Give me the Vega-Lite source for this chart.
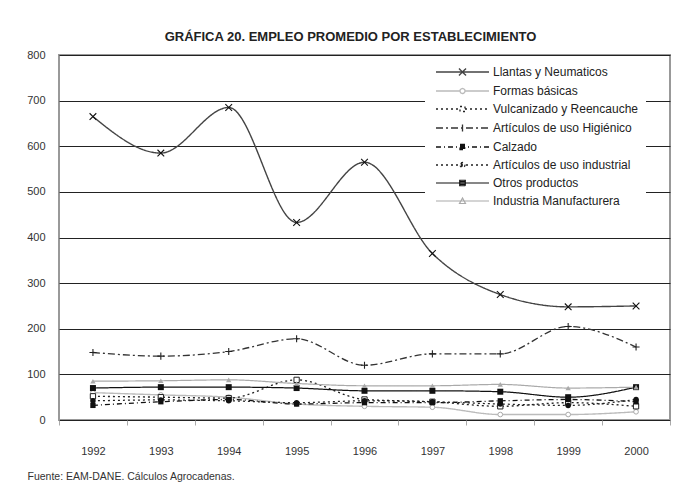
{
  "$schema": "https://vega.github.io/schema/vega-lite/v6.json",
  "width": 611,
  "height": 365,
  "autosize": {"type": "none"},
  "padding": {"left": 59, "top": 55, "right": 14, "bottom": 63},
  "background": "white",
  "title": {
    "text": "GRÁFICA  20. EMPLEO PROMEDIO POR ESTABLECIMIENTO",
    "font": "Liberation Sans",
    "fontSize": 13,
    "fontWeight": "bold",
    "color": "#222",
    "anchor": "middle",
    "dx": -14,
    "offset": 5
  },
  "config": {
    "view": {"stroke": "#999", "strokeWidth": 2},
    "font": "Liberation Sans"
  },
  "data": {
    "values": [
      {"anio": "1992", "serie": "Llantas y Neumaticos", "valor": 665},
      {"anio": "1993", "serie": "Llantas y Neumaticos", "valor": 585},
      {"anio": "1994", "serie": "Llantas y Neumaticos", "valor": 685},
      {"anio": "1995", "serie": "Llantas y Neumaticos", "valor": 433},
      {"anio": "1996", "serie": "Llantas y Neumaticos", "valor": 565},
      {"anio": "1997", "serie": "Llantas y Neumaticos", "valor": 365},
      {"anio": "1998", "serie": "Llantas y Neumaticos", "valor": 275},
      {"anio": "1999", "serie": "Llantas y Neumaticos", "valor": 248},
      {"anio": "2000", "serie": "Llantas y Neumaticos", "valor": 250},
      {"anio": "1992", "serie": "Formas básicas", "valor": 60},
      {"anio": "1993", "serie": "Formas básicas", "valor": 55},
      {"anio": "1994", "serie": "Formas básicas", "valor": 50},
      {"anio": "1995", "serie": "Formas básicas", "valor": 35},
      {"anio": "1996", "serie": "Formas básicas", "valor": 30},
      {"anio": "1997", "serie": "Formas básicas", "valor": 28},
      {"anio": "1998", "serie": "Formas básicas", "valor": 12},
      {"anio": "1999", "serie": "Formas básicas", "valor": 12},
      {"anio": "2000", "serie": "Formas básicas", "valor": 18},
      {"anio": "1992", "serie": "Vulcanizado y Reencauche", "valor": 52},
      {"anio": "1993", "serie": "Vulcanizado y Reencauche", "valor": 50},
      {"anio": "1994", "serie": "Vulcanizado y Reencauche", "valor": 48},
      {"anio": "1995", "serie": "Vulcanizado y Reencauche", "valor": 88},
      {"anio": "1996", "serie": "Vulcanizado y Reencauche", "valor": 45},
      {"anio": "1997", "serie": "Vulcanizado y Reencauche", "valor": 40},
      {"anio": "1998", "serie": "Vulcanizado y Reencauche", "valor": 30},
      {"anio": "1999", "serie": "Vulcanizado y Reencauche", "valor": 38},
      {"anio": "2000", "serie": "Vulcanizado y Reencauche", "valor": 30},
      {"anio": "1992", "serie": "Artículos de uso Higiénico", "valor": 148},
      {"anio": "1993", "serie": "Artículos de uso Higiénico", "valor": 140},
      {"anio": "1994", "serie": "Artículos de uso Higiénico", "valor": 150},
      {"anio": "1995", "serie": "Artículos de uso Higiénico", "valor": 178},
      {"anio": "1996", "serie": "Artículos de uso Higiénico", "valor": 120},
      {"anio": "1997", "serie": "Artículos de uso Higiénico", "valor": 145},
      {"anio": "1998", "serie": "Artículos de uso Higiénico", "valor": 145},
      {"anio": "1999", "serie": "Artículos de uso Higiénico", "valor": 205},
      {"anio": "2000", "serie": "Artículos de uso Higiénico", "valor": 160},
      {"anio": "1992", "serie": "Calzado", "valor": 32},
      {"anio": "1993", "serie": "Calzado", "valor": 40},
      {"anio": "1994", "serie": "Calzado", "valor": 45},
      {"anio": "1995", "serie": "Calzado", "valor": 35},
      {"anio": "1996", "serie": "Calzado", "valor": 38},
      {"anio": "1997", "serie": "Calzado", "valor": 38},
      {"anio": "1998", "serie": "Calzado", "valor": 42},
      {"anio": "1999", "serie": "Calzado", "valor": 45},
      {"anio": "2000", "serie": "Calzado", "valor": 40},
      {"anio": "1992", "serie": "Artículos de uso industrial", "valor": 42},
      {"anio": "1993", "serie": "Artículos de uso industrial", "valor": 44},
      {"anio": "1994", "serie": "Artículos de uso industrial", "valor": 42},
      {"anio": "1995", "serie": "Artículos de uso industrial", "valor": 38},
      {"anio": "1996", "serie": "Artículos de uso industrial", "valor": 42},
      {"anio": "1997", "serie": "Artículos de uso industrial", "valor": 40},
      {"anio": "1998", "serie": "Artículos de uso industrial", "valor": 35},
      {"anio": "1999", "serie": "Artículos de uso industrial", "valor": 32},
      {"anio": "2000", "serie": "Artículos de uso industrial", "valor": 45},
      {"anio": "1992", "serie": "Otros productos", "valor": 70},
      {"anio": "1993", "serie": "Otros productos", "valor": 72},
      {"anio": "1994", "serie": "Otros productos", "valor": 72},
      {"anio": "1995", "serie": "Otros productos", "valor": 70},
      {"anio": "1996", "serie": "Otros productos", "valor": 64},
      {"anio": "1997", "serie": "Otros productos", "valor": 64},
      {"anio": "1998", "serie": "Otros productos", "valor": 62},
      {"anio": "1999", "serie": "Otros productos", "valor": 50},
      {"anio": "2000", "serie": "Otros productos", "valor": 72},
      {"anio": "1992", "serie": "Industria Manufacturera", "valor": 85},
      {"anio": "1993", "serie": "Industria Manufacturera", "valor": 86},
      {"anio": "1994", "serie": "Industria Manufacturera", "valor": 88},
      {"anio": "1995", "serie": "Industria Manufacturera", "valor": 80},
      {"anio": "1996", "serie": "Industria Manufacturera", "valor": 75},
      {"anio": "1997", "serie": "Industria Manufacturera", "valor": 75},
      {"anio": "1998", "serie": "Industria Manufacturera", "valor": 78},
      {"anio": "1999", "serie": "Industria Manufacturera", "valor": 70},
      {"anio": "2000", "serie": "Industria Manufacturera", "valor": 72}
    ]
  },
  "encoding": {
    "x": {
      "field": "anio",
      "type": "ordinal",
      "bandPosition": 0.5,
      "scale": {"type": "band", "paddingInner": 0, "paddingOuter": 0},
      "axis": {
        "title": "Fuente: EAM-DANE. Cálculos Agrocadenas.",
        "titleAnchor": "start",
        "titleAlign": "left",
        "titleBaseline": "alphabetic",
        "titleX": -32,
        "titleY": 59,
        "titleFont": "Liberation Sans",
        "titleFontSize": 10.5,
        "titleFontWeight": "normal",
        "titleColor": "#333",
        "labelAngle": 0,
        "labelFont": "Liberation Sans",
        "labelFontSize": 11,
        "labelColor": "#333",
        "labelPadding": 20,
        "tickBand": "extent",
        "tickColor": "#aaa",
        "tickSize": 5,
        "domain": false,
        "grid": false
      }
    },
    "y": {
      "field": "valor",
      "type": "quantitative",
      "scale": {"domain": [0, 800], "nice": false},
      "axis": {
        "title": null,
        "values": [0, 100, 200, 300, 400, 500, 600, 700, 800],
        "labelFont": "Liberation Sans",
        "labelFontSize": 11,
        "labelColor": "#333",
        "labelPadding": 14,
        "ticks": false,
        "domain": false,
        "grid": true,
        "gridColor": "#222",
        "gridWidth": 1
      }
    }
  },
  "layer": [
    {
      "mark": {"type": "line", "interpolate": "monotone"},
      "encoding": {
        "color": {
          "field": "serie",
          "type": "nominal",
          "scale": {
            "domain": ["Llantas y Neumaticos", "Formas básicas", "Vulcanizado y Reencauche", "Artículos de uso Higiénico", "Calzado", "Artículos de uso industrial", "Otros productos", "Industria Manufacturera"],
            "range": ["#444444", "#bbbbbb", "#222222", "#333333", "#111111", "#222222", "#111111", "#aaaaaa"]
          },
          "legend": {
            "orient": "none",
            "legendX": 366,
            "legendY": 3,
            "title": null,
            "symbolSize": 100,
            "symbolOffset": 23.5,
            "symbolStrokeWidth": 1.3,
            "symbolOpacity": 1,
            "fillColor": "white",
            "padding": 8,
            "rowPadding": 6,
            "labelFont": "Liberation Sans",
            "labelFontSize": 12,
            "labelColor": "#222",
            "labelOffset": 24.5
          }
        },
        "strokeDash": {
          "field": "serie",
          "type": "nominal",
          "scale": {
            "domain": ["Llantas y Neumaticos", "Formas básicas", "Vulcanizado y Reencauche", "Artículos de uso Higiénico", "Calzado", "Artículos de uso industrial", "Otros productos", "Industria Manufacturera"],
            "range": [[1, 0], [1, 0], [2, 3], [7, 3, 2, 3], [5, 3, 1, 3], [2, 3], [1, 0], [1, 0]]
          }
        },
        "strokeWidth": {
          "field": "serie",
          "type": "nominal",
          "legend": null,
          "scale": {
            "domain": ["Llantas y Neumaticos", "Formas básicas", "Vulcanizado y Reencauche", "Artículos de uso Higiénico", "Calzado", "Artículos de uso industrial", "Otros productos", "Industria Manufacturera"],
            "range": [1.4, 1.2, 1.2, 1.2, 1.3, 1.3, 1.5, 1.2]
          }
        }
      }
    },
    {
      "mark": {"type": "point", "filled": true, "opacity": 0, "size": 100},
      "encoding": {
        "stroke": {
          "field": "serie",
          "type": "nominal",
          "scale": {
            "domain": ["Llantas y Neumaticos", "Formas básicas", "Vulcanizado y Reencauche", "Artículos de uso Higiénico", "Calzado", "Artículos de uso industrial", "Otros productos", "Industria Manufacturera"],
            "range": ["#444444", "#bbbbbb", "#222222", "#333333", "#111111", "#222222", "#111111", "#aaaaaa"]
          }
        },
        "shape": {
          "field": "serie",
          "type": "nominal",
          "scale": {
            "domain": ["Llantas y Neumaticos", "Formas básicas", "Vulcanizado y Reencauche", "Artículos de uso Higiénico", "Calzado", "Artículos de uso industrial", "Otros productos", "Industria Manufacturera"],
            "range": [
              "M-5.3,0H5.3M-0.7,-0.7L0.7,0.7M-0.7,0.7L0.7,-0.7",
              "M-5.3,0H-0.5M0.5,0H5.3M0.5,0A0.5,0.5,0,1,1,-0.5,0A0.5,0.5,0,1,1,0.5,0Z",
              "M-5.3,0H-0.5M0.5,0H5.3M-0.5,-0.5H0.5V0.5H-0.5Z",
              "M-5.3,0H5.3M0,-0.7V0.7",
              "M-5.3,0H5.3M-0.5,-0.5H0.5V0.5H-0.5ZM-0.5,-0.25H0.5M-0.5,0.25H0.5",
              "M-5.3,0H5.3M0.5,0A0.5,0.5,0,1,1,-0.5,0A0.5,0.5,0,1,1,0.5,0ZM-0.4,-0.25H0.4M-0.4,0.25H0.4",
              "M-5.3,0H5.3M-0.55,-0.55H0.55V0.55H-0.55ZM-0.55,-0.27H0.55M-0.55,0.27H0.55",
              "M-5.3,0H5.3M0,-0.6L0.6,0.5H-0.6Z"
            ]
          }
        },
        "fill": {
          "field": "serie",
          "type": "nominal",
          "scale": {
            "domain": ["Llantas y Neumaticos", "Formas básicas", "Vulcanizado y Reencauche", "Artículos de uso Higiénico", "Calzado", "Artículos de uso industrial", "Otros productos", "Industria Manufacturera"],
            "range": ["transparent", "white", "white", "transparent", "#111111", "#111111", "#111111", "#aaaaaa"]
          }
        }
      }
    },
    {
      "transform": [{"filter": {"field": "serie", "equal": "Llantas y Neumaticos"}}],
      "mark": {"type": "point", "shape": "M-1,-1L1,1M-1,1L1,-1", "size": 45, "filled": false, "stroke": "#111111", "strokeWidth": 1.1, "opacity": 1}
    },
    {
      "transform": [{"filter": {"field": "serie", "equal": "Formas básicas"}}],
      "mark": {"type": "point", "shape": "circle", "size": 22, "filled": false, "stroke": "#aaaaaa", "fill": "white", "strokeWidth": 1, "opacity": 1}
    },
    {
      "transform": [{"filter": {"field": "serie", "equal": "Vulcanizado y Reencauche"}}],
      "mark": {"type": "point", "shape": "square", "size": 28, "filled": false, "stroke": "#222222", "fill": "white", "strokeWidth": 1, "opacity": 1}
    },
    {
      "transform": [{"filter": {"field": "serie", "equal": "Artículos de uso Higiénico"}}],
      "mark": {"type": "point", "shape": "M-1,0H1M0,-1V1", "size": 50, "filled": false, "stroke": "#222222", "strokeWidth": 1.1, "opacity": 1}
    },
    {
      "transform": [{"filter": {"field": "serie", "equal": "Calzado"}}],
      "mark": {"type": "point", "shape": "square", "size": 28, "filled": true, "fill": "#111111", "opacity": 1}
    },
    {
      "transform": [{"filter": {"field": "serie", "equal": "Artículos de uso industrial"}}],
      "mark": {"type": "point", "shape": "circle", "size": 30, "filled": true, "fill": "#111111", "opacity": 1}
    },
    {
      "transform": [{"filter": {"field": "serie", "equal": "Otros productos"}}],
      "mark": {"type": "point", "shape": "square", "size": 36, "filled": true, "fill": "#111111", "opacity": 1}
    },
    {
      "transform": [{"filter": {"field": "serie", "equal": "Industria Manufacturera"}}],
      "mark": {"type": "point", "shape": "triangle-up", "size": 28, "filled": true, "fill": "#aaaaaa", "opacity": 1}
    }
  ]
}
